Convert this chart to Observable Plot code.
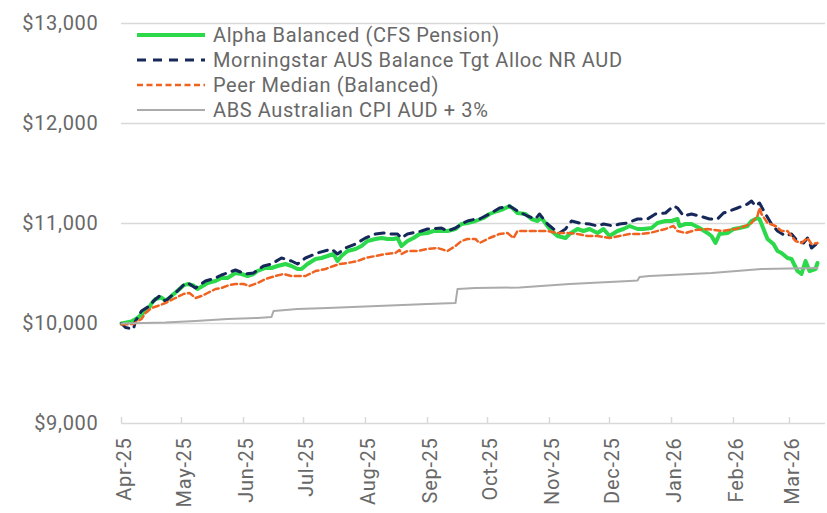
<!DOCTYPE html>
<html><head><meta charset="utf-8">
<script src="https://cdn.jsdelivr.net/npm/d3@7"></script>
<script src="https://cdn.jsdelivr.net/npm/@observablehq/plot@0.6"></script>
<style>
body{margin:0;background:#fff;}
#wrap{position:relative;width:827px;height:513px;font-family:Roboto,sans-serif;}
#legend{position:absolute;left:137px;top:22px;}
.row{display:flex;align-items:center;height:25px;}
.row svg{width:68px;height:10px;margin-right:8px;flex:none;}
.row span{font-size:20px;color:#686868;letter-spacing:0.6px;white-space:nowrap;}
</style></head>
<body><div id="wrap"><div id="chart"></div><div id="legend"></div></div>
<script>
// days since 2025-04-01, value ($)
const seriesNames = ["Alpha Balanced (CFS Pension)", "Morningstar AUS Balance Tgt Alloc NR AUD", "Peer Median (Balanced)", "ABS Australian CPI AUD + 3%"];
const alpha = [[0,10000],[5,10020],[8,10055],[11,10110],[13,10130],[15,10200],[17,10245],[20,10260],[22,10225],[25,10275],[27,10310],[31,10380],[33,10395],[36,10380],[38,10345],[41,10380],[43,10405],[47,10425],[50,10455],[53,10455],[57,10505],[60,10495],[63,10475],[66,10495],[68,10525],[72,10555],[75,10555],[78,10575],[82,10595],[85,10575],[88,10545],[90,10545],[93,10595],[97,10645],[100,10655],[103,10675],[106,10695],[108,10625],[110,10675],[113,10725],[117,10745],[120,10775],[123,10825],[127,10845],[130,10855],[133,10845],[136,10845],[138,10855],[140,10775],[143,10825],[146,10855],[149,10895],[153,10905],[156,10925],[160,10925],[163,10925],[167,10945],[170,10995],[173,11005],[177,11025],[181,11055],[184,11095],[188,11125],[191,11145],[194,11175],[196,11145],[198,11105],[202,11095],[205,11045],[208,11025],[210,11055],[213,10975],[215,10925],[218,10875],[222,10855],[224,10895],[228,10945],[231,10925],[234,10945],[238,10905],[241,10945],[244,10875],[248,10925],[251,10945],[254,10975],[258,10945],[261,10945],[265,10955],[268,11005],[272,11025],[275,11025],[278,11045],[279,10975],[282,10995],[285,10995],[289,10955],[293,10905],[295,10875],[297,10805],[299,10895],[303,10905],[306,10945],[309,10955],[313,10975],[315,11025],[318,11055],[319,11045],[321,10945],[323,10845],[326,10795],[328,10725],[330,10705],[333,10655],[335,10645],[338,10525],[340,10495],[342,10625],[344,10525],[347,10545],[348,10605]];
const morningstar = [[0,10000],[2,9960],[6,9945],[7,10025],[10,10125],[14,10175],[16,10225],[19,10275],[22,10225],[26,10295],[28,10325],[32,10405],[34,10395],[37,10355],[42,10425],[47,10455],[50,10485],[57,10535],[62,10495],[66,10505],[71,10575],[75,10595],[80,10655],[85,10625],[88,10595],[92,10655],[98,10705],[105,10745],[108,10695],[112,10755],[117,10795],[122,10855],[127,10895],[131,10905],[135,10895],[138,10895],[140,10855],[143,10895],[150,10925],[153,10945],[160,10955],[163,10925],[167,10955],[170,10995],[173,11025],[177,11045],[179,11045],[184,11095],[189,11155],[194,11175],[198,11125],[203,11075],[207,11045],[209,11095],[213,10995],[216,10945],[219,10905],[222,10945],[225,11025],[229,11005],[234,10995],[238,10975],[241,10995],[246,10975],[249,10995],[253,11005],[258,11045],[263,11045],[267,11095],[272,11105],[276,11175],[278,11155],[281,11075],[285,11095],[289,11075],[294,11045],[298,11045],[301,11105],[304,11125],[308,11155],[313,11195],[315,11225],[317,11175],[319,11205],[322,11095],[325,10995],[328,10925],[332,10875],[335,10895],[338,10825],[341,10805],[343,10855],[345,10755],[348,10805]];
const peer = [[0,9990],[6,9995],[10,10045],[12,10105],[15,10155],[18,10175],[22,10205],[27,10255],[31,10295],[34,10305],[37,10255],[40,10275],[43,10305],[47,10345],[50,10355],[54,10385],[57,10395],[61,10395],[64,10375],[68,10405],[72,10445],[77,10475],[81,10495],[85,10475],[88,10475],[92,10475],[97,10525],[102,10545],[106,10575],[109,10595],[113,10605],[118,10625],[122,10655],[127,10675],[132,10695],[137,10705],[139,10735],[140,10695],[143,10725],[148,10725],[153,10745],[158,10755],[163,10725],[167,10775],[170,10825],[173,10845],[177,10845],[179,10805],[184,10855],[189,10895],[193,10905],[196,10855],[198,10925],[203,10925],[209,10925],[213,10925],[218,10905],[223,10905],[228,10895],[233,10875],[238,10875],[244,10855],[249,10875],[254,10895],[259,10895],[264,10905],[272,10945],[276,10975],[278,10925],[282,10905],[287,10935],[293,10945],[300,10925],[307,10945],[312,10975],[315,11005],[318,11075],[319,11155],[320,11095],[323,11005],[327,10975],[330,10925],[333,10925],[337,10825],[340,10805],[343,10855],[345,10795],[348,10805]];
const cpi = [[0,10000],[22,10010],[37,10025],[53,10045],[68,10055],[75,10065],[76,10125],[88,10145],[103,10155],[128,10175],[153,10195],[167,10205],[168,10345],[177,10355],[199,10360],[224,10395],[254,10425],[258,10430],[259,10465],[264,10475],[295,10505],[320,10545],[348,10555]];
const yTicks = [9000, 10000, 11000, 12000, 13000];
const monthTicks = ["2025-04-01","2025-05-01","2025-06-01","2025-07-01","2025-08-01","2025-09-01","2025-10-01","2025-11-01","2025-12-01","2026-01-01","2026-02-01","2026-03-01"];
const monthLabels = ["Apr-25","May-25","Jun-25","Jul-25","Aug-25","Sep-25","Oct-25","Nov-25","Dec-25","Jan-26","Feb-26","Mar-26"];
const xEndDay = 352;

const start = Date.UTC(2025, 3, 1);
const toDate = d => new Date(start + d * 864e5);
const rows = arr => arr.map(([d, v]) => ({date: toDate(d), value: v}));
const ticks = monthTicks.map(s => new Date(s + "T00:00:00Z"));

const styles = [
  {stroke: "#2BD94B", strokeWidth: 4, dash: null},
  {stroke: "#16275A", strokeWidth: 3, dash: "9,7"},
  {stroke: "#F0621F", strokeWidth: 2.5, dash: "6,3.5"},
  {stroke: "#ABABAB", strokeWidth: 2, dash: null}
];
const data = [alpha, morningstar, peer, cpi];

const chart = Plot.plot({
  width: 827, height: 513,
  marginLeft: 121, marginRight: 2, marginTop: 23, marginBottom: 90,
  style: {fontFamily: "Roboto, sans-serif", fontSize: "20px", color: "#686868", background: "white", letterSpacing: "0.7px"},
  x: {type: "utc", domain: [toDate(0), toDate(xEndDay)], label: null},
  y: {domain: [9000, 13000], label: null},
  marks: [
    Plot.gridY(yTicks, {stroke: "#D9D9D9", strokeOpacity: 1, strokeWidth: 1.5}),
    Plot.axisY(yTicks, {tickSize: 0, tickPadding: 23, tickFormat: d3.format("$,"), fontSize: 20, label: null}),
    Plot.axisX(ticks, {tickSize: 6, dy: -6, tickFormat: () => "", stroke: "#D9D9D9", strokeWidth: 1.5, label: null}),
    Plot.axisX(ticks, {tickSize: 0, tickPadding: 14, tickRotate: -90, dx: 3, fontSize: 20, tickFormat: (d, i) => monthLabels[i], label: null}),
    ...data.map((arr, i) => Plot.line(rows(arr), {x: "date", y: "value", stroke: styles[i].stroke, strokeWidth: styles[i].strokeWidth, strokeDasharray: styles[i].dash, strokeLinejoin: "round"}))
  ]
});
document.getElementById("chart").appendChild(chart);

const legend = document.getElementById("legend");
seriesNames.forEach((name, i) => {
  const s = styles[i];
  const row = document.createElement("div");
  row.className = "row";
  row.innerHTML = `<svg viewBox="0 0 68 10"><line x1="0" x2="68" y1="5" y2="5" stroke="${s.stroke}" stroke-width="${s.strokeWidth}" ${s.dash ? `stroke-dasharray="${s.dash}"` : ""}/></svg><span>${name}</span>`;
  legend.appendChild(row);
});
</script></body></html>
